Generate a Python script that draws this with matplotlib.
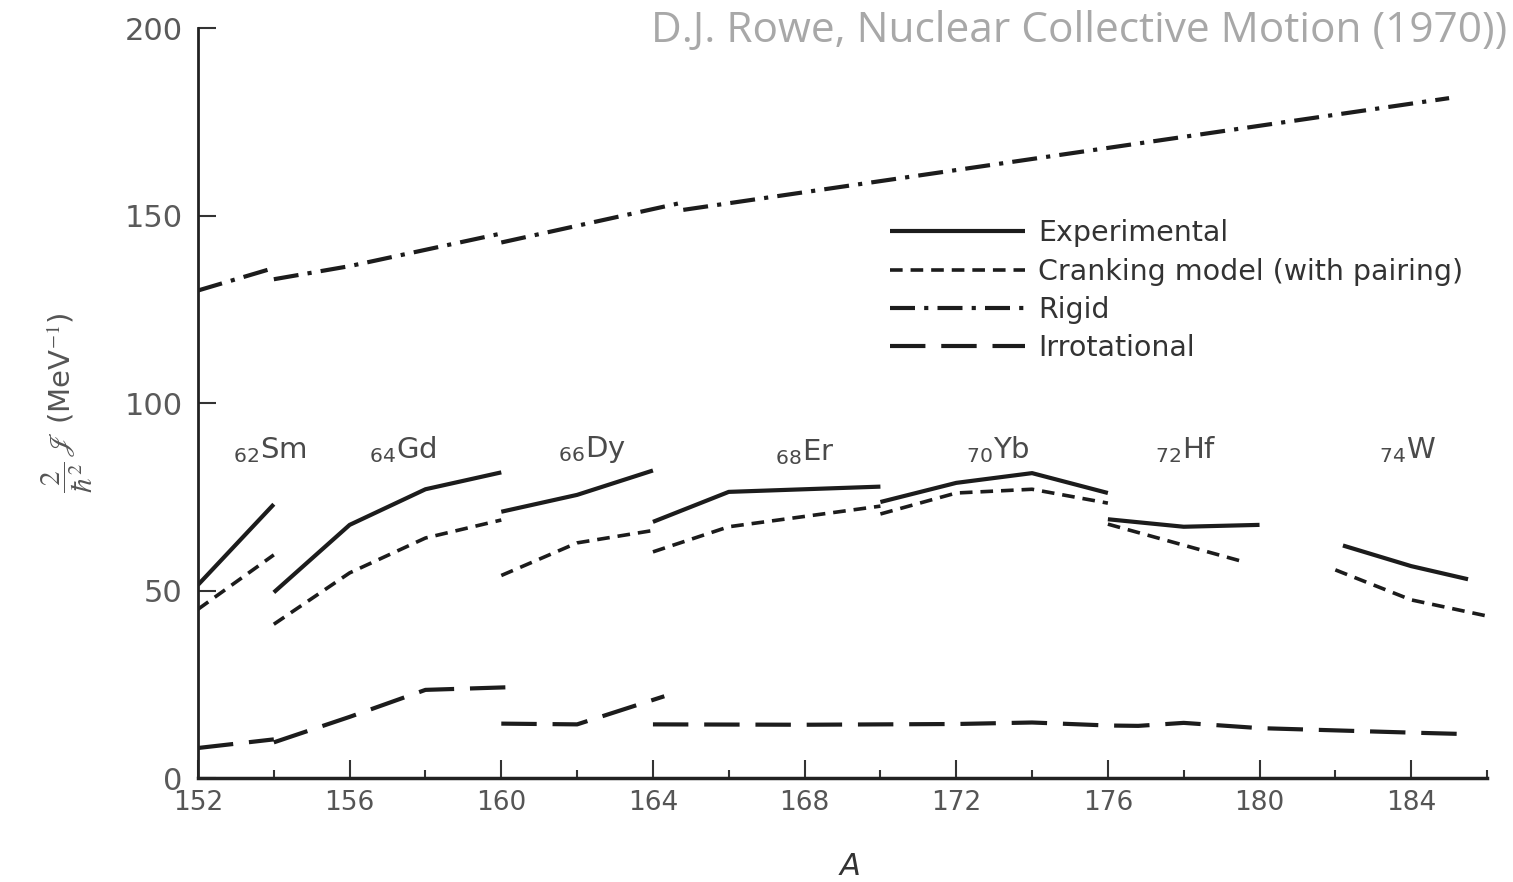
import matplotlib
matplotlib.use('Agg')
import matplotlib.pyplot as plt
from matplotlib.lines import Line2D

# ---------------- data ----------------
elements = ['Sm', 'Gd', 'Dy', 'Er', 'Yb', 'Hf', 'W']
proton_numbers = ['62', '64', '66', '68', '70', '72', '74']
label_A = [153.9, 157.4, 162.4, 168.0, 173.1, 178.05, 183.9]
label_y = [87.5, 87.5, 87.5, 87.0, 87.5, 87.5, 87.5]

# Experimental (solid)
exp_Sm_A = [152, 154];              exp_Sm = [51.5, 73.0]
exp_Gd_A = [154, 156, 158, 160];    exp_Gd = [49.5, 67.5, 77.0, 81.5]
exp_Dy_A = [160, 162, 164];         exp_Dy = [71.0, 75.5, 82.0]
exp_Er_A = [164, 166, 170];         exp_Er = [68.3, 76.3, 77.7]
exp_Yb_A = [170, 172, 174, 176];    exp_Yb = [73.6, 78.7, 81.3, 76.0]
exp_Hf_A = [176, 178, 180];         exp_Hf = [69.0, 67.0, 67.5]
exp_W_A = [182.2, 184, 185.5];      exp_W = [62.0, 56.5, 53.0]

# Cranking model with pairing (short dashes)
cr_Sm_A = [152, 154];               cr_Sm = [45.0, 59.5]
cr_Gd_A = [154, 156, 158, 160];     cr_Gd = [41.0, 54.7, 64.0, 68.8]
cr_Dy_A = [160, 162, 164];          cr_Dy = [54.0, 62.7, 66.0]
cr_Er_A = [164, 166, 170];          cr_Er = [60.3, 67.0, 72.5]
cr_Yb_A = [170, 172, 174, 176];     cr_Yb = [70.4, 76.0, 77.0, 73.3]
cr_Hf_A = [176, 179.6];             cr_Hf = [67.7, 57.6]
cr_W_A = [182, 184, 186];           cr_W = [55.5, 47.5, 43.2]

# Rigid (dash-dot)
rig_Sm_A = [152, 154];              rig_Sm = [130.0, 136.0]
rig_Gd_A = [154, 156, 160];         rig_Gd = [133.0, 136.5, 145.2]
rig_Dy_A = [160, 164.8];            rig_Dy = [142.8, 153.5]
rig_rest_A = [164.8, 185];          rig_rest = [151.5, 181.3]

# Irrotational (long dashes)
irr_Sm_A = [152, 154];              irr_Sm = [8.0, 10.3]
irr_Gd_A = [154, 156, 158, 160.5];  irr_Gd = [9.5, 16.3, 23.5, 24.3]
irr_Dy_A = [160, 162, 164.3];       irr_Dy = [14.5, 14.3, 21.8]
irr_rest_A = [164, 168, 172, 174, 176, 176.8, 178, 179, 180, 182, 184, 185.5]
irr_rest = [14.3, 14.2, 14.4, 14.8, 14.0, 13.9, 14.7, 14.0, 13.3, 12.7, 12.1, 11.7]

legend_labels = ['Experimental', 'Cranking model (with pairing)', 'Rigid', 'Irrotational']
x_major = [152, 156, 160, 164, 168, 172, 176, 180, 184]
x_minor = [154, 158, 162, 166, 170, 174, 178, 182, 186]
y_major = [0, 50, 100, 150, 200]

# ---------------- styles ----------------
ink = '#1c1c1c'
st_exp = dict(color=ink, lw=3.0, linestyle='-', solid_capstyle='butt')
st_cr = dict(color=ink, lw=2.6, linestyle=(0, (3.5, 2.2)), dash_capstyle='butt')
st_rig = dict(color=ink, lw=3.0, linestyle=(0, (6, 2.2, 1, 2.2)), dash_capstyle='butt')
st_irr = dict(color=ink, lw=3.0, linestyle=(0, (8.5, 3.8)), dash_capstyle='butt')

fig = plt.figure(figsize=(15.13, 8.82), dpi=100)
fig.patch.set_facecolor('white')
ax = fig.add_axes([198 / 1513, 104 / 882, 1289 / 1513, 750 / 882])

for A, v in [(exp_Sm_A, exp_Sm), (exp_Gd_A, exp_Gd), (exp_Dy_A, exp_Dy), (exp_Er_A, exp_Er),
             (exp_Yb_A, exp_Yb), (exp_Hf_A, exp_Hf), (exp_W_A, exp_W)]:
    ax.plot(A, v, **st_exp)
for A, v in [(cr_Sm_A, cr_Sm), (cr_Gd_A, cr_Gd), (cr_Dy_A, cr_Dy), (cr_Er_A, cr_Er),
             (cr_Yb_A, cr_Yb), (cr_Hf_A, cr_Hf), (cr_W_A, cr_W)]:
    ax.plot(A, v, **st_cr)
for A, v in [(rig_Sm_A, rig_Sm), (rig_Gd_A, rig_Gd), (rig_Dy_A, rig_Dy), (rig_rest_A, rig_rest)]:
    ax.plot(A, v, **st_rig)
for A, v in [(irr_Sm_A, irr_Sm), (irr_Gd_A, irr_Gd), (irr_Dy_A, irr_Dy), (irr_rest_A, irr_rest)]:
    ax.plot(A, v, **st_irr)

# element labels
for el, z, xa, ya in zip(elements, proton_numbers, label_A, label_y):
    ax.text(xa, ya, r'${}_{%s}$%s' % (z, el), ha='center', va='center',
            fontsize=21, color='#4a4a4a')

# legend
handles = [Line2D([], [], **st_exp), Line2D([], [], **st_cr),
           Line2D([], [], **st_rig), Line2D([], [], **st_irr)]
leg = ax.legend(handles, legend_labels, loc='upper left', bbox_to_anchor=(0.537, 0.745),
                frameon=False, fontsize=20.5, handlelength=4.75, handletextpad=0.45,
                labelspacing=0.36, borderaxespad=0, borderpad=0)
for t in leg.get_texts():
    t.set_color('#333333')

# axes
ax.set_xlim(152, 186)
ax.set_ylim(0, 200)
ax.set_xticks(x_major)
ax.set_xticks(x_minor, minor=True)
ax.set_yticks(y_major)
for s in ['top', 'right']:
    ax.spines[s].set_visible(False)
ax.spines['left'].set_linewidth(2.0)
ax.spines['bottom'].set_linewidth(2.5)
ax.spines['left'].set_color('#222222')
ax.spines['bottom'].set_color('#222222')
ax.tick_params(axis='x', which='major', direction='in', length=13, width=1.5,
               labelsize=19, labelcolor='#555555', color='#333333', pad=9)
ax.tick_params(axis='x', which='minor', direction='in', length=6, width=1.5, color='#333333')
ax.tick_params(axis='y', which='major', direction='in', length=13, width=1.5,
               labelsize=22, labelcolor='#5a5a5a', color='#333333', pad=11)

ax.set_xlabel('A', fontsize=22, style='italic', color='#333333')
ax.xaxis.set_label_coords(0.506, -0.099)
ax.set_ylabel(r'$\dfrac{2}{\hbar^2}\,\mathscr{J}$ (MeV$^{-1}$)', fontsize=21,
              color='#555555', math_fontfamily='stix')
ax.yaxis.set_label_coords(-0.08, 0.5)

fig.text(1507 / 1513, 1 - 31 / 882, 'D.J. Rowe, Nuclear Collective Motion (1970))',
         ha='right', va='center', fontsize=30.5, color='#a8a8a8', family='Open Sans')

fig.savefig('out.png', dpi=100, facecolor='white')
